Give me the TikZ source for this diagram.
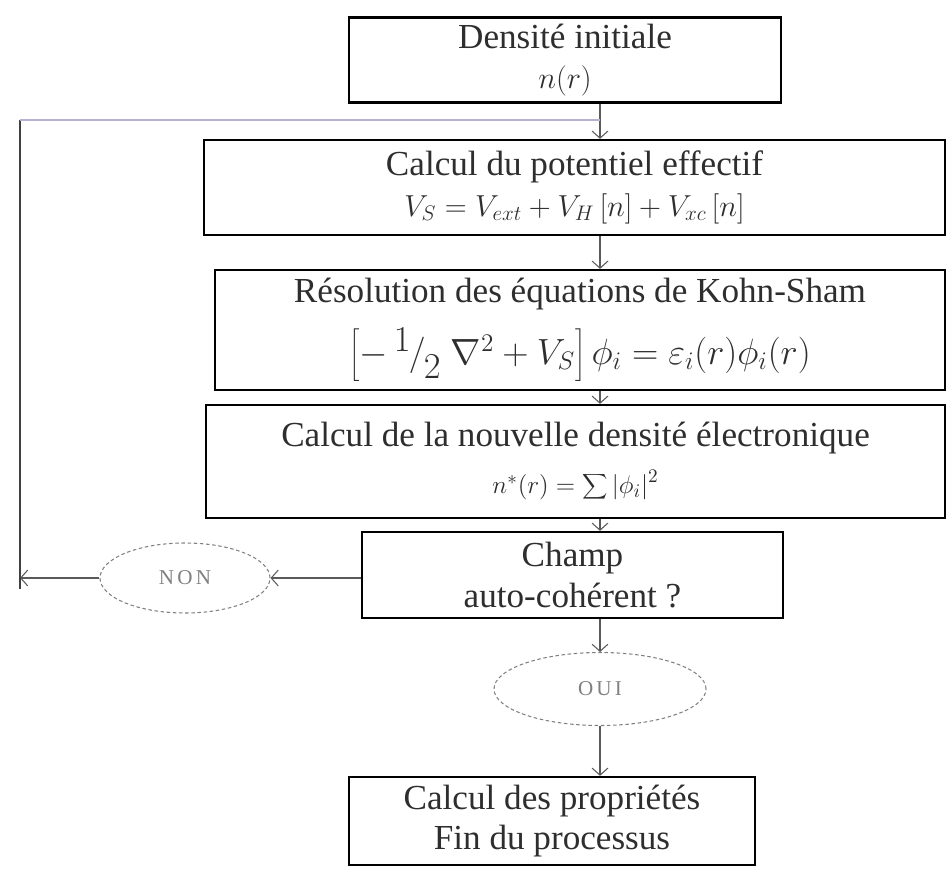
\documentclass[tikz,border=0pt]{standalone}
\usepackage{fontspec}
\setmainfont{Liberation Serif}
\newfontfamily\ellfont[LetterSpace=15]{Liberation Serif}
\usetikzlibrary{arrows.meta,shapes.geometric}
\definecolor{boxtext}{HTML}{2E2E2E}
\definecolor{arrowgray}{HTML}{5A5A5A}
\definecolor{loopblue}{HTML}{B4B4D2}
\tikzset{
  etape/.style={draw, line width=1.3pt, align=center, text=boxtext, inner sep=0pt, font=\fontsize{20}{23}\selectfont},
  choix/.style={ellipse, draw=gray, dashed, dash pattern=on 2pt off 1.5pt, line width=0.6pt, text=gray, inner sep=0pt, font=\ellfont\fontsize{12}{14}\selectfont},
  fl/.style={draw=arrowgray, line width=0.6pt, -{Straight Barb[length=4pt,width=9pt]}},
  backline/.style={draw=black!75, line width=1.2pt},
  loopline/.style={draw=loopblue, line width=1.2pt}
}
\begin{document}
\begin{tikzpicture}
\useasboundingbox (0,0) rectangle (19.02,17.54);

\node[etape, minimum width=8.64cm, minimum height=1.7cm] (dens) at (11.3,16.34)
  {Densité initiale\\ {\fontsize{16}{18}\selectfont $n(r)$}};
\node[etape, minimum width=14.82cm, minimum height=1.9cm] (pot) at (11.49,13.79)
  {Calcul du potentiel effectif\\ {\fontsize{18}{20}\selectfont $V_{S}=V_{ext}+V_{H}\left[n\right]+V_{xc}\left[n\right]$}};
\node[etape, minimum width=14.6cm, minimum height=2.4cm] (ks) at (11.6,10.94)
  {Résolution des équations de Kohn-Sham\\[9pt] $\left[-\,\raisebox{.8ex}{$1$}\kern-1pt\Big/\kern-1pt\raisebox{-.9ex}{$2$}\;\nabla^{2}+V_{S}\right]\phi_{i}=\varepsilon_{i}(r)\phi_{i}(r)$};
\node[etape, minimum width=14.78cm, minimum height=2.26cm] (nd) at (11.51,8.31)
  {Calcul de la nouvelle densité électronique\\[4pt] {\fontsize{15}{17}\selectfont $n^{*}(r)=\displaystyle\sum\left|\phi_{i}\right|^{2}$}};
\node[etape, minimum width=8.42cm, minimum height=1.72cm] (sc) at (11.45,6.04) {Champ\\ auto-cohérent ?};
\node[choix, minimum width=3.4cm, minimum height=1.4cm] (non) at (3.7,5.98) {NON};
\node[choix, minimum width=4.24cm, minimum height=1.46cm] (oui) at (12,3.76) {OUI};
\node[etape, minimum width=8.12cm, minimum height=1.76cm] (fin) at (11.04,1.12) {Calcul des propriétés\\ Fin du processus};

\coordinate (col) at (12,15.14);
\coordinate (lt) at (0.4,15.14);
\coordinate (lb) at (0.4,5.98);

\draw[fl] (dens.south -| col) -- (pot.north -| col);
\draw[fl] (pot.south -| col) -- (ks.north -| col);
\draw[fl] (ks.south -| col) -- (nd.north -| col);
\draw[fl] (nd.south -| col) -- (sc.north -| col);
\draw[fl] (sc.south -| oui) -- (oui.north);
\draw[fl] (oui.south) -- (fin.north -| oui);
\draw[fl] (sc.west |- non) -- (non.east);
\draw[fl] (non.west) -- (lb);
\draw[backline] ([yshift=-0.22cm]lb) -- (lt);
\draw[loopline] (lt) -- (col);
\end{tikzpicture}
\end{document}
